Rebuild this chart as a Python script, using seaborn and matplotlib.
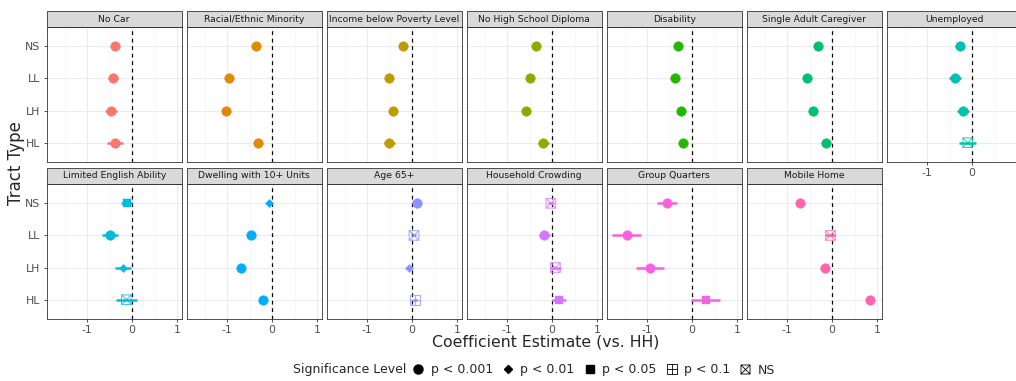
import numpy as np
import pandas as pd
import matplotlib
matplotlib.use("Agg")
import matplotlib.pyplot as plt
from matplotlib.path import Path
from matplotlib.lines import Line2D
from matplotlib.patches import Rectangle
import seaborn as sns

sns.set_style("white")
plt.rcParams['font.family'] = ['DejaVu Sans']

# ---- data ----
variables = ["No Car", "Racial/Ethnic Minority", "Income below Poverty Level",
             "No High School Diploma", "Disability", "Single Adult Caregiver",
             "Unemployed", "Limited English Ability", "Dwelling with 10+ Units",
             "Age 65+", "Household Crowding", "Group Quarters", "Mobile Home"]
tracts = ["NS", "LL", "LH", "HL"]
sig_levels = ["p < 0.001", "p < 0.01", "p < 0.05", "p < 0.1", "NS"]
colors = ["#F8766D", "#E18A00", "#BE9C00", "#8CAB00", "#24B700", "#00BE70", "#00C1AB",
          "#00BBDA", "#00ACFC", "#8B93FF", "#D575FE", "#F962DD", "#FF65AC"]

estimate = [[-0.39, -0.43, -0.48, -0.39],
            [-0.35, -0.95, -1.02, -0.32],
            [-0.21, -0.51, -0.42, -0.51],
            [-0.37, -0.50, -0.59, -0.20],
            [-0.32, -0.39, -0.24, -0.20],
            [-0.31, -0.56, -0.42, -0.14],
            [-0.27, -0.38, -0.20, -0.10],
            [-0.11, -0.50, -0.20, -0.13],
            [-0.08, -0.47, -0.69, -0.20],
            [0.10, 0.04, -0.08, 0.06],
            [-0.03, -0.18, 0.07, 0.14],
            [-0.57, -1.46, -0.94, 0.30],
            [-0.71, -0.04, -0.16, 0.84]]
lower = [[-0.45, -0.54, -0.61, -0.56],
         [-0.40, -1.00, -1.08, -0.38],
         [-0.27, -0.57, -0.48, -0.63],
         [-0.42, -0.55, -0.65, -0.32],
         [-0.37, -0.45, -0.30, -0.26],
         [-0.36, -0.62, -0.48, -0.21],
         [-0.38, -0.51, -0.33, -0.29],
         [-0.24, -0.68, -0.39, -0.36],
         [-0.13, -0.53, -0.75, -0.26],
         [0.05, -0.01, -0.13, 0.01],
         [-0.09, -0.30, -0.06, -0.01],
         [-0.79, -1.78, -1.26, -0.02],
         [-0.76, -0.15, -0.22, 0.78]]
upper = [[-0.33, -0.32, -0.34, -0.21],
         [-0.30, -0.90, -0.96, -0.26],
         [-0.15, -0.45, -0.36, -0.38],
         [-0.32, -0.45, -0.53, -0.08],
         [-0.27, -0.33, -0.18, -0.14],
         [-0.26, -0.50, -0.36, -0.07],
         [-0.18, -0.25, -0.07, 0.08],
         [0.00, -0.32, -0.02, 0.10],
         [-0.03, -0.41, -0.63, -0.14],
         [0.15, 0.09, -0.03, 0.11],
         [0.03, -0.06, 0.19, 0.31],
         [-0.33, -1.13, -0.63, 0.61],
         [-0.66, 0.07, -0.10, 0.90]]
# index into sig_levels
signif = [[0, 0, 0, 0],
          [0, 0, 0, 0],
          [0, 0, 0, 0],
          [0, 0, 0, 0],
          [0, 0, 0, 0],
          [0, 0, 0, 0],
          [0, 0, 0, 4],
          [2, 0, 1, 4],
          [1, 0, 0, 0],
          [0, 4, 1, 3],
          [4, 0, 4, 2],
          [0, 0, 0, 2],
          [0, 4, 0, 0]]

rows = []
for i, v in enumerate(variables):
    for j, t in enumerate(tracts):
        rows.append(dict(variable=v, tract=t, pos=j, est=estimate[i][j],
                         lo=lower[i][j], hi=upper[i][j], sig=sig_levels[signif[i][j]]))
df = pd.DataFrame(rows)

# markers: filled circle, diamond, square; open square-plus, square-cross
M, L, C = Path.MOVETO, Path.LINETO, Path.CLOSEPOLY
sq_plus = Path([(-1, -1), (1, -1), (1, 1), (-1, 1), (-1, -1), (0, -1), (0, 1), (-1, 0), (1, 0)],
               [M, L, L, L, C, M, L, M, L])
sq_cross = Path([(-1, -1), (1, -1), (1, 1), (-1, 1), (-1, -1), (-1, -1), (1, 1), (-1, 1), (1, -1)],
                [M, L, L, L, C, M, L, M, L])
markers = {"p < 0.001": "o", "p < 0.01": "D", "p < 0.05": "s", "p < 0.1": sq_plus, "NS": sq_cross}
sizes = {"p < 0.001": 48, "p < 0.01": 17, "p < 0.05": 40, "p < 0.1": 48, "NS": 48}
open_sig = ["p < 0.1", "NS"]

W, H = 1016, 381
fig = plt.figure(figsize=(W / 100, H / 100), dpi=100)

panel_w, panel_h = 135, 135
col_x = [46.7 + 140 * k for k in range(7)]
row_y = [27, 184]
border = "#333333"

for i, v in enumerate(variables):
    r, c = divmod(i, 7)
    x0, y0 = col_x[c], row_y[r]
    ax = fig.add_axes([x0 / W, 1 - (y0 + panel_h) / H, panel_w / W, panel_h / H])
    sub = df[df.variable == v]
    col = colors[i]

    ax.set_xlim(-1.9, 1.1)
    ax.set_ylim(len(tracts) - 0.4, -0.6)
    ax.set_xticks([-1, 0, 1])
    # the last panel runs past the right edge of the image, so its "1" is not seen
    ax.set_xticklabels(["-1", "0", "1" if c < 6 else ""])
    ax.set_xticks([-1.5, -0.5, 0.5], minor=True)
    ax.set_yticks(range(len(tracts)))
    ax.set_yticklabels(tracts)
    ax.grid(which="major", color="#ebebeb", lw=0.7)
    ax.grid(which="minor", axis="x", color="#f2f2f2", lw=0.4)
    ax.set_axisbelow(True)

    ax.axvline(0, color="black", ls=(0, (3, 3)), lw=0.9, zorder=2)
    ax.hlines(sub.pos, sub.lo, sub.hi, color=col, lw=1.8, zorder=3)

    for s in sig_levels:
        part = sub[sub.sig == s]
        if part.empty:
            continue
        if s in open_sig:
            sns.scatterplot(data=part, x="est", y="pos", ax=ax, marker=markers[s], s=sizes[s],
                            facecolor="none", edgecolor=col, linewidth=0.8, alpha=0.75,
                            legend=False, zorder=4)
        else:
            sns.scatterplot(data=part, x="est", y="pos", ax=ax, marker=markers[s], s=sizes[s],
                            color=col, edgecolor=col, linewidth=0.3, legend=False, zorder=4)

    ax.set_xlabel("")
    ax.set_ylabel("")
    for sp in ax.spines.values():
        sp.set_color(border)
        sp.set_linewidth(0.6)
    ax.tick_params(axis="both", which="major", length=2.5, width=0.6, color=border,
                   labelcolor="#4d4d4d", labelsize=7.8, pad=2)
    ax.tick_params(which="minor", length=0)
    show_x = (r == 1) or (c == 6)
    ax.tick_params(axis="x", bottom=show_x, labelbottom=show_x)
    ax.tick_params(axis="y", left=(c == 0), labelleft=(c == 0))

    strip_h = 16 / panel_h
    ax.add_patch(Rectangle((0, 1), 1, strip_h, transform=ax.transAxes, clip_on=False,
                           facecolor="#d9d9d9", edgecolor=border, lw=0.6))
    ax.text(0.5, 1 + strip_h / 2, v, transform=ax.transAxes, ha="center", va="center",
            fontsize=6.7, color="#1a1a1a", zorder=10)

fig.text(16 / W, 1 - 163 / H, "Tract Type", rotation=90, ha="center", va="center", fontsize=12)
fig.text(546 / W, 1 - 342 / H, "Coefficient Estimate (vs. HH)", ha="center", va="center",
         fontsize=11.3)

fig.text(293 / W, 1 - 370 / H, "Significance Level", ha="left", va="center", fontsize=9)
handles = []
for s in sig_levels:
    if s in open_sig:
        handles.append(Line2D([], [], ls="none", marker=markers[s], markersize=6.5,
                              markerfacecolor="none", markeredgecolor="black",
                              markeredgewidth=0.6, label=s))
    else:
        ms = {"o": 6.5, "D": 3.8, "s": 6.0}[markers[s]]
        handles.append(Line2D([], [], ls="none", marker=markers[s], markersize=ms,
                              color="black", label=s))
fig.legend(handles=handles, loc="center left", bbox_to_anchor=(410 / W, 1 - 370 / H),
           ncol=5, frameon=False, fontsize=9, handletextpad=0.35, columnspacing=0.55,
           handlelength=1.3, borderaxespad=0, borderpad=0)

fig.savefig("out.png", dpi=100)
